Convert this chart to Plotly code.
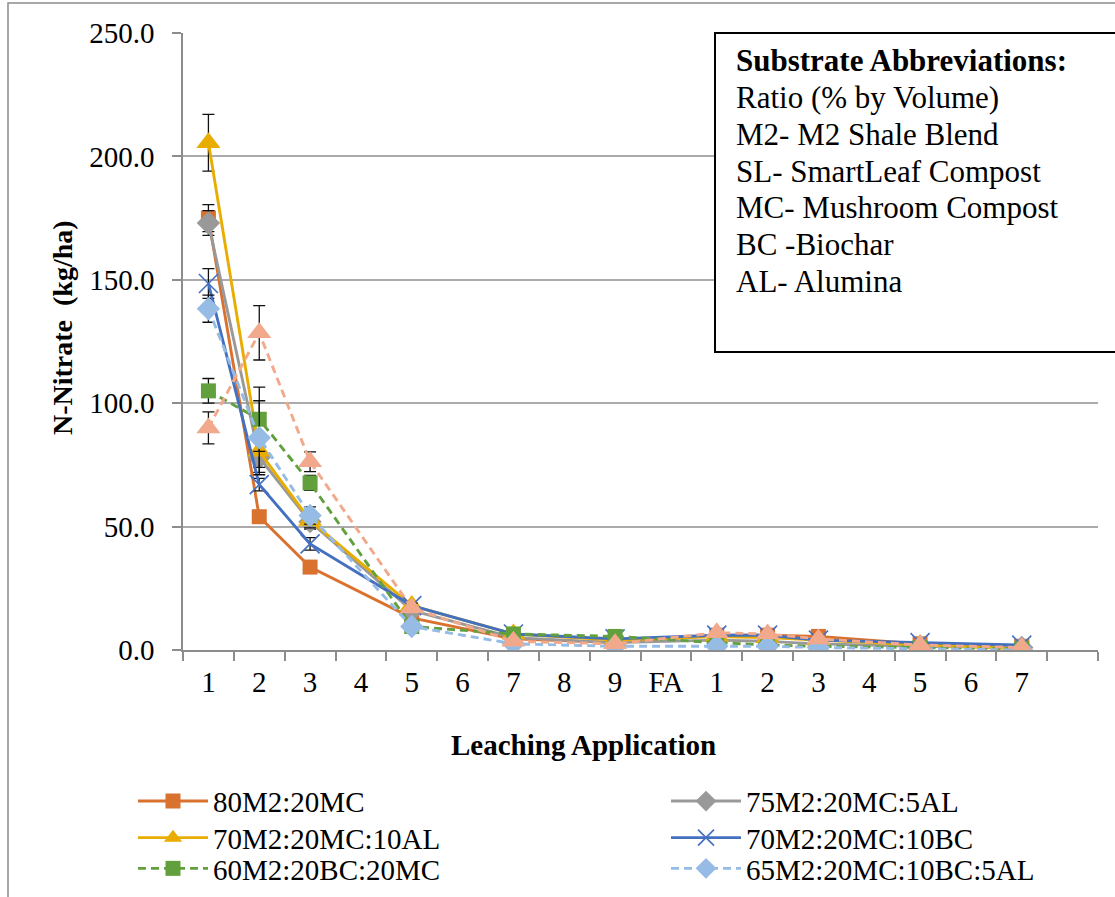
import plotly.graph_objects as go

# ---------------- data ----------------
categories = ["1", "2", "3", "4", "5", "6", "7", "8", "9", "FA",
              "1", "2", "3", "4", "5", "6", "7", ""]

series_names = ["80M2:20MC", "75M2:20MC:5AL", "70M2:20MC:10AL",
                "70M2:20MC:10BC", "60M2:20BC:20MC", "65M2:20MC:10BC:5AL",
                "80M2:20SL"]

N = None
v_80M2_20MC      = [175.0, 54.0, 33.6, N, 13.0, N, 4.5, N, 3.0, N, 6.0, 6.0, 5.5, N, 2.5, N, 1.5, N]
v_75M2_20MC_5AL  = [173.0, 78.0, 52.0, N, 16.0, N, 5.0, N, 3.0, N, 4.0, 3.5, 2.5, N, 1.5, N, 1.0, N]
v_70M2_20MC_10AL = [205.5, 80.5, 52.5, N, 18.0, N, 6.5, N, 4.0, N, 5.5, 5.0, 4.0, N, 2.0, N, 0.5, N]
v_70M2_20MC_10BC = [148.5, 67.0, 43.0, N, 18.0, N, 6.5, N, 4.5, N, 6.0, 6.0, 4.0, N, 3.0, N, 2.0, N]
v_60M2_20BC_20MC = [105.0, 93.5, 67.7, N, 9.5, N, 6.5, N, 5.5, N, 3.0, 2.0, 1.5, N, 1.0, N, 0.5, N]
v_65M2_20MC_10BC_5AL = [138.3, 86.0, 54.5, N, 9.5, N, 2.5, N, 1.5, N, 1.5, 1.5, 1.0, N, 0.5, N, 0.0, N]
v_80M2_20SL      = [90.0, 128.5, 76.3, N, 17.0, N, 3.5, N, 2.5, N, 7.0, 6.5, 4.5, N, 2.0, N, 1.0, N]

e_80M2_20MC      = [5.5, 2.5, 1.5, N, 1.0, N, 0.5, N, 0.3, N, 0.5, 0.5, 0.5, N, 0.3, N, 0.2, N]
e_75M2_20MC_5AL  = [5.0, 6.0, 3.0, N, 1.0, N, 0.5, N, 0.3, N, 0.4, 0.4, 0.3, N, 0.2, N, 0.1, N]
e_70M2_20MC_10AL = [11.5, 6.5, 3.0, N, 1.0, N, 0.5, N, 0.3, N, 0.5, 0.5, 0.4, N, 0.2, N, 0.1, N]
e_70M2_20MC_10BC = [6.0, 2.5, 2.5, N, 1.0, N, 0.5, N, 0.3, N, 0.5, 0.5, 0.4, N, 0.3, N, 0.2, N]
e_60M2_20BC_20MC = [5.0, 13.0, 3.0, N, 1.0, N, 0.5, N, 0.3, N, 0.3, 0.2, 0.2, N, 0.1, N, 0.1, N]
e_65M2_20MC_10BC_5AL = [5.5, 15.0, 3.5, N, 1.0, N, 0.3, N, 0.2, N, 0.2, 0.2, 0.1, N, 0.1, N, 0.1, N]
e_80M2_20SL      = [6.5, 11.0, 4.0, N, 1.0, N, 0.4, N, 0.3, N, 0.6, 0.6, 0.5, N, 0.2, N, 0.1, N]

y_ticks = [0, 50, 100, 150, 200, 250]

box_lines = ["<b>Substrate Abbreviations:</b>", "Ratio (% by Volume)",
             "M2- M2 Shale Blend", "SL- SmartLeaf Compost",
             "MC- Mushroom Compost", "BC -Biochar", "AL- Alumina"]

x_title = "<b>Leaching Application</b>"
y_title = "<b>N-Nitrate  (kg/ha)</b>"

# ---------------- styles ----------------
values = [v_80M2_20MC, v_75M2_20MC_5AL, v_70M2_20MC_10AL, v_70M2_20MC_10BC,
          v_60M2_20BC_20MC, v_65M2_20MC_10BC_5AL, v_80M2_20SL]
errors = [e_80M2_20MC, e_75M2_20MC_5AL, e_70M2_20MC_10AL, e_70M2_20MC_10BC,
          e_60M2_20BC_20MC, e_65M2_20MC_10BC_5AL, e_80M2_20SL]
DASH = "8px,5px"
styles = [
    dict(color="#D9712F", symbol="square", size=15, dash="solid", legend="legend"),
    dict(color="#999999", symbol="diamond", size=18, dash="solid", legend="legend2"),
    dict(color="#E8AD00", symbol="triangle-up", size=21, dash="solid", legend="legend3"),
    dict(color="#4470C0", symbol="x-thin", size=19, dash="solid", legend="legend4"),
    dict(color="#62A03E", symbol="square", size=15, dash=DASH, legend="legend5"),
    dict(color="#96BCE6", symbol="diamond", size=18, dash=DASH, legend="legend6"),
    dict(color="#F2A98B", symbol="triangle-up", size=21, dash=DASH, legend=None),
]

FONT = "Liberation Serif, Times New Roman, serif"
xs = list(range(len(categories)))

fig = go.Figure()
for name, vals, errs, st in zip(series_names, values, errors, styles):
    mk = dict(symbol=st["symbol"], size=st["size"], color=st["color"])
    if st["symbol"] == "x-thin":
        mk["line"] = dict(color=st["color"], width=1.6)
    else:
        mk["line"] = dict(color=st["color"], width=0)
    kw = dict(showlegend=st["legend"] is not None)
    if st["legend"] is not None:
        kw["legend"] = st["legend"]
    fig.add_trace(go.Scatter(
        x=xs, y=vals, name=name, mode="lines+markers",
        connectgaps=True,
        line=dict(color=st["color"], width=2.9, dash=st["dash"]),
        marker=mk,
        error_y=dict(type="data", array=errs, visible=True,
                     color="#111111", thickness=1.3, width=6),
        **kw,
    ))

L, R, T, B = 183, 17, 33, 247
W, H = 1115, 897
pw, ph = W - L - R, H - T - B

def px_x(p):
    return (p - L) / pw

def px_y(p):
    return (H - B - p) / ph

legend_common = dict(orientation="v", xanchor="left", yanchor="top",
                     font=dict(family=FONT, size=29), itemwidth=70,
                     bgcolor="rgba(0,0,0,0)", tracegroupgap=0)

row_centres = [801.7, 838.3, 869.0]
col_left = [133, 666]
legend_pos = {}
k = 0
for r in row_centres:
    for c in col_left:
        key = "legend" if k == 0 else "legend%d" % (k + 1)
        legend_pos[key] = dict(x=px_x(c), y=px_y(r - 26), **legend_common)
        k += 1

fig.update_layout(
    width=W, height=H,
    margin=dict(l=L, r=R, t=T, b=B, autoexpand=False),
    paper_bgcolor="white", plot_bgcolor="white",
    font=dict(family=FONT, size=29, color="black"),
    xaxis=dict(
        range=[-0.5, len(categories) - 0.5],
        tickmode="array", tickvals=xs, ticktext=categories,
        ticks="", showgrid=False, zeroline=False,
        showline=True, linecolor="#8C8C8C", linewidth=1.6,
        ticklabelstandoff=5,
        tickfont=dict(family=FONT, size=29),
        minor=dict(tickmode="array",
                   tickvals=[i - 0.5 for i in range(len(categories) + 1)],
                   ticks="outside", ticklen=9, tickwidth=1.6,
                   tickcolor="#8C8C8C", showgrid=False),
    ),
    yaxis=dict(
        range=[0, 250], tickmode="array", tickvals=y_ticks,
        tickformat=".1f",
        ticks="outside", ticklen=9, tickwidth=1.6, tickcolor="#8C8C8C",
        showgrid=True, gridcolor="#ABABAB", gridwidth=1.6,
        zeroline=False, showline=True, linecolor="#8C8C8C", linewidth=1.6,
        ticklabelstandoff=12,
        tickfont=dict(family=FONT, size=29),
    ),
    showlegend=True,
    **legend_pos,
)

# axis titles placed like the reference
fig.add_annotation(xref="paper", yref="paper", x=px_x(583), y=px_y(745),
                   xanchor="center", yanchor="middle", showarrow=False,
                   text=x_title, font=dict(family=FONT, size=29, color="black"))
fig.add_annotation(xref="paper", yref="paper", x=px_x(62), y=px_y(328),
                   xanchor="center", yanchor="middle", showarrow=False,
                   textangle=-90,
                   text=y_title, font=dict(family=FONT, size=28, color="black"))

# chart-area frame (partly outside the picture like the reference)
fig.add_shape(type="rect", xref="paper", yref="paper",
              x0=px_x(8), x1=px_x(1125), y0=px_y(910), y1=px_y(3),
              line=dict(color="#8C8C8C", width=1.5), fillcolor="rgba(0,0,0,0)",
              layer="below")

# abbreviations box
fig.add_shape(type="rect", xref="paper", yref="paper",
              x0=px_x(715), x1=px_x(1130), y0=px_y(352), y1=px_y(33),
              line=dict(color="black", width=2), fillcolor="white",
              layer="above")
for i, line in enumerate(box_lines):
    fig.add_annotation(xref="paper", yref="paper",
                       x=px_x(734), y=px_y(61 + 36.67 * i),
                       xanchor="left", yanchor="middle",
                       align="left", showarrow=False, text=line,
                       font=dict(family=FONT, size=31, color="black"))

fig.write_html("out.html")
